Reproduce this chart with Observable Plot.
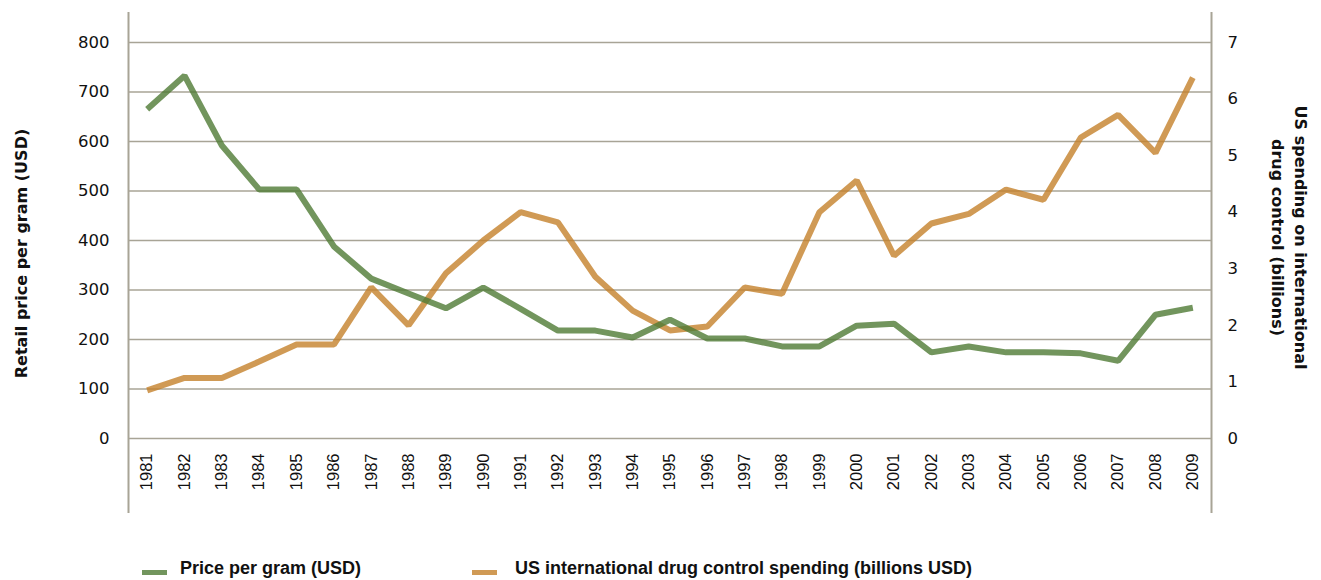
<!DOCTYPE html>
<html>
<head>
<meta charset="utf-8">
<script src="https://cdn.jsdelivr.net/npm/d3@7"></script>
<script src="https://cdn.jsdelivr.net/npm/@observablehq/plot@0.6"></script>
<style>
  html, body { margin: 0; padding: 0; background: #fff; }
  #wrap { position: relative; width: 1321px; height: 580px; overflow: hidden; font-family: "Liberation Sans", Arial, sans-serif; }
  #legend { position: absolute; left: 0; top: 559px; width: 1321px; height: 21px; font-size: 18px; font-weight: bold; line-height: 18px; color: #111; white-space: nowrap; }
  .sw { position: absolute; width: 25px; height: 5px; top: 11px; }
  .lbl { position: absolute; top: 0; }
</style>
</head>
<body>
<div id="wrap">
  <div id="chart"></div>
  <div id="legend"></div>
</div>
<script>
// ---- data ----
const years = [1981,1982,1983,1984,1985,1986,1987,1988,1989,1990,1991,1992,1993,1994,1995,1996,1997,1998,1999,2000,2001,2002,2003,2004,2005,2006,2007,2008,2009];
const pricePerGram = [665,733,592,503,503,388,323,293,263,305,262,218,218,204,240,202,202,186,186,228,232,174,186,174,174,172,157,250,264];
const spendingBillions = [0.85,1.07,1.07,1.36,1.66,1.66,2.67,2.0,2.92,3.5,4.0,3.82,2.86,2.26,1.91,1.98,2.67,2.56,4.0,4.56,3.23,3.8,3.97,4.4,4.22,5.32,5.72,5.05,6.38];
const leftTicks = [0,100,200,300,400,500,600,700,800];
const rightTicks = [0,1,2,3,4,5,6,7];
const seriesNames = ["Price per gram (USD)", "US international drug control spending (billions USD)"];
const seriesColors = ["#4f7a35", "#c4812a"];
const leftTitle = "Retail price per gram (USD)";
const rightTitle = "US spending on international\ndrug control (billions)";

// ---- build ----
const k = d3.max(leftTicks) / d3.max(rightTicks); // right axis -> left axis units
const priceRows = years.map((y, i) => ({year: y, value: pricePerGram[i]}));
const spendRows = years.map((y, i) => ({year: y, value: spendingBillions[i] * k}));
const xEdges = [d3.min(years) - 0.5, d3.max(years) + 0.5];
const gridColor = "#a8a496";
const font = "'Liberation Sans', Arial, sans-serif";
const wideFont = "'DejaVu Sans', Verdana, sans-serif";

const plot = Plot.plot({
  width: 1321,
  height: 545,
  marginLeft: 128,
  marginRight: 110,
  marginTop: 42,
  marginBottom: 107,
  style: {fontFamily: font, color: "#111", background: "white"},
  x: {domain: xEdges},
  y: {domain: [d3.min(leftTicks), d3.max(leftTicks)]},
  marks: [
    Plot.ruleY(leftTicks, {stroke: gridColor, strokeWidth: 1.6}),
    Plot.ruleX(xEdges, {stroke: gridColor, strokeWidth: 2, insetTop: -30, insetBottom: -75}),
    Plot.axisY({ticks: leftTicks, tickSize: 0, tickPadding: 19, fontSize: 16.5, fontFamily: wideFont, label: null, anchor: "left"}),
    Plot.axisY({ticks: rightTicks.map(v => v * k), tickFormat: d => String(Math.round(d / k)), tickSize: 0, tickPadding: 16, fontSize: 16.5, fontFamily: wideFont, label: null, anchor: "right"}),
    Plot.axisX({ticks: years, tickFormat: d => String(d), tickRotate: -90, tickSize: 0, tickPadding: 15, fontSize: 16.5, label: null}),
    Plot.line(spendRows, {x: "year", y: "value", stroke: seriesColors[1], strokeOpacity: 0.8, strokeWidth: 6, strokeLinejoin: "miter", strokeLinecap: "butt"}),
    Plot.line(priceRows, {x: "year", y: "value", stroke: seriesColors[0], strokeOpacity: 0.8, strokeWidth: 6, strokeLinejoin: "miter", strokeLinecap: "butt"}),
    Plot.text([leftTitle], {frameAnchor: "left", text: d => d, rotate: -90, dx: -107, dy: 13, fontSize: 16, fontFamily: wideFont, fontWeight: "bold", textAnchor: "middle", lineAnchor: "middle"}),
    Plot.text([rightTitle], {frameAnchor: "right", text: d => d, rotate: 90, dx: 79, dy: -3, fontSize: 16, fontFamily: wideFont, fontWeight: "bold", textAnchor: "middle", lineAnchor: "middle", lineHeight: 1.4})
  ]
});
document.getElementById("chart").appendChild(plot);

// legend
const legend = document.getElementById("legend");
const legendPos = [{sw: 142, lbl: 180}, {sw: 472, lbl: 515}];
seriesNames.forEach((name, i) => {
  const sw = document.createElement("div");
  sw.className = "sw";
  sw.style.left = legendPos[i].sw + "px";
  sw.style.background = seriesColors[i];
  sw.style.opacity = 0.8;
  legend.appendChild(sw);
  const lbl = document.createElement("div");
  lbl.className = "lbl";
  lbl.style.left = legendPos[i].lbl + "px";
  lbl.textContent = name;
  legend.appendChild(lbl);
});
</script>
</body>
</html>
